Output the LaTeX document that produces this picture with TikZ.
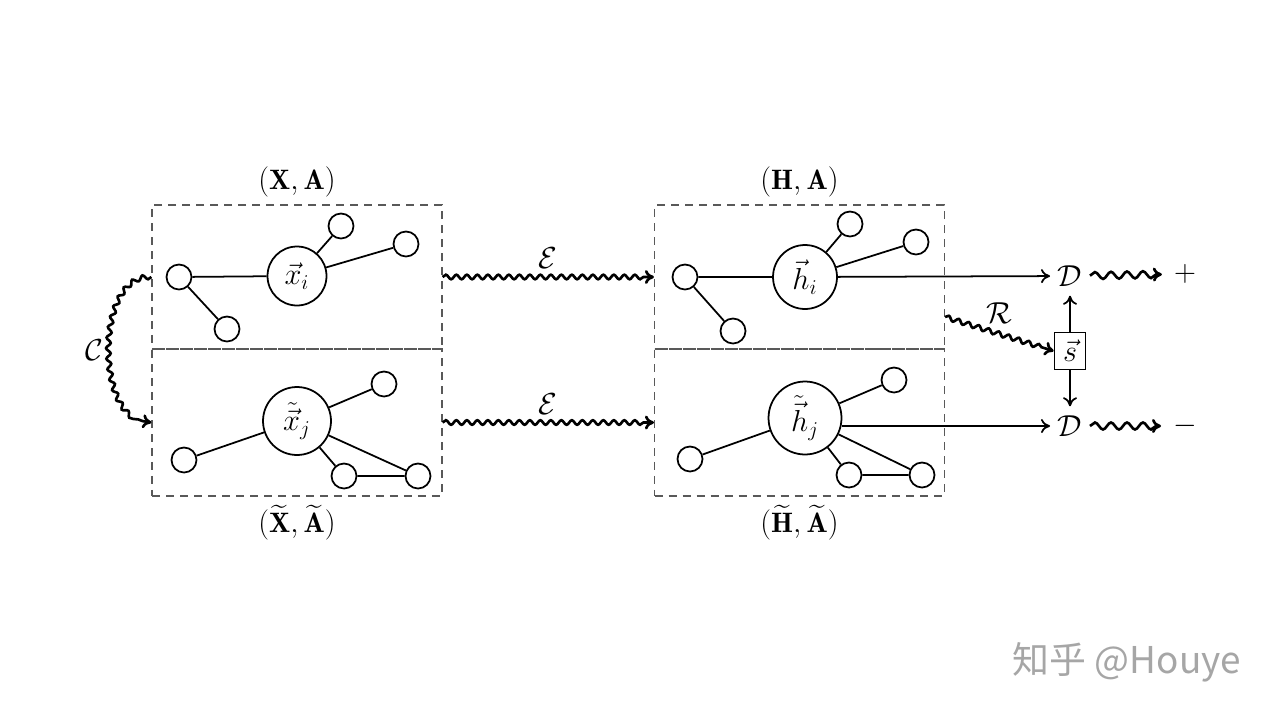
\documentclass[tikz,border=0pt]{standalone}
\usepackage{amsmath}
\usepackage{amssymb}
\usepackage{fontspec}
\newfontfamily\cjkfont{Noto Sans CJK SC}
\usepackage{tikz}
\usetikzlibrary{arrows.meta,positioning,calc,decorations.pathmorphing}
\tikzset{%
  frame/.style={draw=black!65,dash pattern=on 1.6mm off 1.2mm,line width=0.7pt,minimum width=58mm,inner sep=0pt},
  vert/.style={draw,circle,line width=1pt,minimum size=5mm,inner sep=0pt},
  hub/.style={draw,circle,line width=1pt,inner sep=0pt,font=\fontsize{17}{20}\selectfont},
  edge/.style={line width=1pt},
  arrow/.style={-{To[length=1.8mm,width=2.8mm]},line width=1pt},
  squig/.style={-{To[length=1.8mm,width=2.8mm]},line width=1.5pt,decorate,
    decoration={snake,segment length=2.1mm,amplitude=0.45mm,post length=1.8mm}},
  wave/.style={squig,decoration={snake,segment length=3.2mm,amplitude=0.7mm,post length=1.8mm}}%
}

\begin{document}
\begin{tikzpicture}[
    x=0.02cm,
    y=-0.02cm,
    font=\fontsize{16}{19}\selectfont
]
\useasboundingbox (0,0) rectangle (1280,720);

% Frames and their labels
\node[frame, minimum height=28.8mm] (fx) at (297,277) {};
\node[frame, minimum height=29.4mm] (fxt) at (297,422.5) {};
\node[frame, minimum height=28.8mm] (fh) at (799.5,277) {};
\node[frame, minimum height=29.4mm] (fht) at (799.5,422.5) {};
\node[above=0.2mm of fx] (lx) {$(\mathbf{X},\mathbf{A})$};
\node[below=0.4mm of fxt] (lxt) {$(\widetilde{\mathbf{X}},\widetilde{\mathbf{A}})$};
\node[above=0.2mm of fh] (lh) {$(\mathbf{H},\mathbf{A})$};
\node[below=0.4mm of fht] (lht) {$(\widetilde{\mathbf{H}},\widetilde{\mathbf{A}})$};

% Input graph
\node[hub, minimum size=11.8mm] (xi) at (297,276) {$\vec{x}_i$};
\node[vert] (xa) at (179,277) {};
\node[vert] (xb) at (227,329) {};
\node[vert] (xc) at (341,226) {};
\node[vert] (xd) at (406,244) {};
\draw[edge] (xa) -- (xi) (xa) -- (xb) (xi) -- (xc) (xi) -- (xd);

% Corrupted graph
\node[hub, minimum size=13.6mm] (xj) at (297,421) {$\tilde{\vec{x}}_j$};
\node[vert] (ya) at (184,460) {};
\node[vert] (yb) at (384,384) {};
\node[vert] (yc) at (344,476) {};
\node[vert] (yd) at (418,476) {};
\draw[edge] (ya) -- (xj) (xj) -- (yb) (xj) -- (yc) (xj) -- (yd) (yc) -- (yd);

% Encoded graphs
\node[hub, minimum size=12.8mm] (hi) at (805,277) {$\vec{h}_i$};
\node[vert] (ha) at (685,277) {};
\node[vert] (hb) at (733,331) {};
\node[vert] (hc) at (850,224) {};
\node[vert] (hd) at (916,242) {};
\draw[edge] (ha) -- (hi) (ha) -- (hb) (hi) -- (hc) (hi) -- (hd);

\node[hub, minimum size=14.6mm] (hj) at (805,418) {$\tilde{\vec{h}}_j$};
\node[vert] (ka) at (690,459) {};
\node[vert] (kb) at (894,380) {};
\node[vert] (kc) at (849,475) {};
\node[vert] (kd) at (922,475) {};
\draw[edge] (ka) -- (hj) (hj) -- (kb) (hj) -- (kc) (hj) -- (kd) (kc) -- (kd);

% Readout and discriminator
\node[inner sep=1.5mm] (dp) at (1070,276) {$\mathcal{D}$};
\node[inner sep=1.5mm] (dm) at (1070,426) {$\mathcal{D}$};
\node[draw, line width=1pt, minimum width=6.2mm, minimum height=7.4mm, inner sep=0pt] (s) at (1070,351) {$\vec{s}$};
\node (plus) at (1185,274) {$+$};
\node (minus) at (1185,426) {$-$};

% Arrows
\draw[squig] (fx.east) -- node[above=0.2mm] (le) {$\mathcal{E}$} (fh.west);
\draw[squig] (fxt.east) -- node[above=0.2mm] (lee) {$\mathcal{E}$} (fht.west);
\draw[squig] (fx.west) to[out=180, in=180, looseness=0.95] node[left=0.1mm] (lc) {$\mathcal{C}$} (fxt.west);
\draw[squig] ($(fh.east)!0.55!(fh.south east)$) -- node[above=0.6mm] (lr) {$\mathcal{R}$} (s.west);
\draw[arrow] (hi) -- (dp);
\draw[arrow] (hj.east |- dm.west) -- (dm.west);
\draw[arrow, shorten >=0.3mm] (s) -- (dp);
\draw[arrow, shorten >=0.3mm] (s) -- (dm);
\draw[wave, shorten >=1.2mm] (dp) -- (plus);
\draw[wave, shorten >=1.2mm] (dm) -- (minus);

% Watermark
\node[text=black!35, font=\cjkfont\fontsize{21}{24}\selectfont] (wm) at (1127,662) {知乎 @Houye};

\end{tikzpicture}
\end{document}
